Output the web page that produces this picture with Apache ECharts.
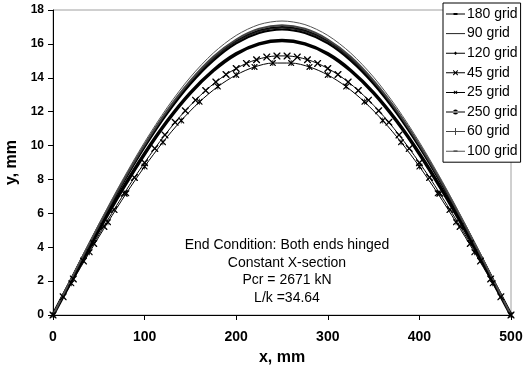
<!DOCTYPE html>
<html>
<head>
    <meta charset="utf-8">
    <title>ECharts</title>
    <script src="https://cdn.jsdelivr.net/npm/echarts@6/dist/echarts.min.js"></script>
</head>
<body style="margin:0">
<div id="main" style="width: 526px;height:371px;"></div>
<script type="text/javascript">
    var myChart = echarts.init(document.getElementById('main'));

    // column length, mm
    var spanLength = 500;

    // deflection y (mm) read at equally spaced nodes along the column
    var grid180 = [0, 2.66, 5.25, 7.72, 9.99, 12.02, 13.75, 15.15, 16.17, 16.79, 17.00,
        16.79, 16.17, 15.15, 13.75, 12.02, 9.99, 7.72, 5.25, 2.66, 0];
    var grid90 = [0, 2.65, 5.24, 7.70, 9.96, 11.99, 13.71, 15.10, 16.12, 16.74, 16.95,
        16.74, 16.12, 15.10, 13.71, 11.99, 9.96, 7.70, 5.24, 2.65, 0];
    var grid120 = [0, 2.64, 5.21, 7.65, 9.90, 11.91, 13.63, 15.01, 16.03, 16.64, 16.85,
        16.64, 16.03, 15.01, 13.63, 11.91, 9.90, 7.65, 5.21, 2.64, 0];
    var grid45 = [0, 1.07, 2.13, 3.18, 4.22, 5.23, 6.22, 7.18, 8.11, 8.99, 9.83, 10.63,
        11.37, 12.06, 12.68, 13.25, 13.75, 14.19, 14.55, 14.85, 15.07, 15.22, 15.29,
        15.29, 15.22, 15.07, 14.85, 14.55, 14.19, 13.75, 13.25, 12.68, 12.06, 11.37,
        10.63, 9.83, 8.99, 8.11, 7.18, 6.22, 5.23, 4.22, 3.18, 2.13, 1.07, 0];
    var grid25 = [0, 1.87, 3.71, 5.48, 7.18, 8.76, 10.20, 11.48, 12.58, 13.48, 14.17,
        14.64, 14.87, 14.87, 14.64, 14.17, 13.48, 12.58, 11.48, 10.20, 8.76, 7.18,
        5.48, 3.71, 1.87, 0];
    var grid250 = [0, 2.53, 5.01, 7.35, 9.52, 11.46, 13.11, 14.43, 15.41, 16.00, 16.20,
        16.00, 15.41, 14.43, 13.11, 11.46, 9.52, 7.35, 5.01, 2.53, 0];
    var grid60 = [0, 2.67, 5.28, 7.76, 10.05, 12.09, 13.83, 15.24, 16.26, 16.89, 17.10,
        16.89, 16.26, 15.24, 13.83, 12.09, 10.05, 7.76, 5.28, 2.67, 0];
    var grid100 = [0, 2.71, 5.36, 7.88, 10.20, 12.27, 14.04, 15.46, 16.50, 17.14, 17.35,
        17.14, 16.50, 15.46, 14.04, 12.27, 10.20, 7.88, 5.36, 2.71, 0];

    var noteLines = ['End Condition: Both ends hinged', 'Constant X-section',
        'Pcr = 2671 kN', 'L/k =34.64'];

    // pair each value with its node position along the span
    function nodes(arr) {
        var step = spanLength / (arr.length - 1);
        return arr.map(function (v, i) { return [i * step, v]; });
    }

    var crossPath = 'path://M0,0L1.4,0L5,3.6L8.6,0L10,0L10,1.4L6.4,5L10,8.6L10,10L8.6,10L5,6.4L1.4,10L0,10L0,8.6L3.6,5L0,1.4Z';
    var starPath = 'path://M0,0L1.4,0L4.4,3L4.4,0L5.6,0L5.6,3L8.6,0L10,0L10,1.4L6.4,5L10,8.6L10,10L8.6,10L5.6,7L5.6,10L4.4,10L4.4,7L1.4,10L0,10L0,8.6L3.6,5L0,1.4Z';

    // legend icons: a short line with the series marker in the middle
    var lineBar = 'M0,3.5H19V4.5H0Z';
    var icons = {
        '180 grid': 'path://' + lineBar + 'M7.5,2.9H11.5V5.1H7.5Z',
        '90 grid': 'path://M0,0H19V1H0Z',
        '120 grid': 'path://' + lineBar + 'M9.5,2.2L11.3,4L9.5,5.8L7.7,4Z',
        '45 grid': 'path://' + lineBar + 'M7,1.5L7.7,1.5L9.5,3.3L11.3,1.5L12,1.5L12,2.2L10.2,4L12,5.8L12,6.5L11.3,6.5L9.5,4.7L7.7,6.5L7,6.5L7,5.8L8.8,4L7,2.2Z',
        '25 grid': 'path://' + lineBar + 'M7.8,2.3L8.5,2.3L9.5,3.3L10.5,2.3L11.2,2.3L11.2,3L10.2,4L11.2,5L11.2,5.7L10.5,5.7L9.5,4.7L8.5,5.7L7.8,5.7L7.8,5L8.8,4L7.8,3Z',
        '250 grid': 'path://' + lineBar + 'M7,4A2.5,2.5,0,1,0,12,4A2.5,2.5,0,1,0,7,4Z',
        '60 grid': 'path://' + lineBar + 'M9,0.5H10V7.5H9Z',
        '100 grid': 'path://' + lineBar + 'M7.5,3.1H11.5V4.9H7.5Z'
    };
    var legendNames = ['180 grid', '90 grid', '120 grid', '45 grid', '25 grid', '250 grid', '60 grid', '100 grid'];

    function line(name, arr, opts) {
        return {
            name: name,
            type: 'line',
            data: nodes(arr),
            smooth: 0.3,
            symbol: opts.symbol || 'none',
            symbolSize: opts.size || 6,
            showSymbol: opts.showSymbol || false,
            lineStyle: {color: opts.color || '#000', width: opts.width || 1},
            itemStyle: {color: opts.color || '#000'},
            z: opts.z || 2
        };
    }

    var option = {
        animation: false,
        textStyle: {fontFamily: 'Liberation Sans'},
        grid: {
            left: 53, right: 15, top: 10, bottom: 56,
            containLabel: false, outerBoundsMode: 'none',
            show: true, borderColor: '#a0a0a0', borderWidth: 1
        },
        xAxis: {
            type: 'value', min: 0, max: 500, interval: 100,
            name: 'x, mm', nameLocation: 'middle', nameGap: 35,
            nameTextStyle: {fontSize: 16, fontWeight: 'bold', color: '#000'},
            axisLine: {lineStyle: {color: '#000'}},
            axisTick: {length: 5, lineStyle: {color: '#000'}},
            axisLabel: {fontSize: 14, fontWeight: 'bold', color: '#000', margin: 15},
            splitLine: {show: false}
        },
        yAxis: {
            type: 'value', min: 0, max: 18, interval: 2,
            name: 'y, mm', nameLocation: 'middle', nameGap: 33,
            nameTextStyle: {fontSize: 16, fontWeight: 'bold', color: '#000'},
            axisLine: {show: true, lineStyle: {color: '#000'}},
            axisTick: {show: true, length: 5, lineStyle: {color: '#000'}},
            axisLabel: {fontSize: 12, fontWeight: 'bold', color: '#000', margin: 9},
            splitLine: {show: false}
        },
        legend: {
            orient: 'vertical',
            left: 443, top: 3,
            backgroundColor: '#fff',
            borderColor: '#000', borderWidth: 1, borderRadius: 0,
            padding: [4, 3, 4, 3],
            itemWidth: 19, itemHeight: 8, itemGap: 5.6,
            textStyle: {fontSize: 14, color: '#000', padding: [0, 0, 0, -3]},
            data: legendNames.map(function (n) { return {name: n, icon: icons[n]}; })
        },
        graphic: noteLines.map(function (t, i) {
            return {
                type: 'text', x: 287, y: 238 + i * 17.7,
                style: {text: t, fill: '#000', font: '14px "Liberation Sans"',
                    textAlign: 'center', textVerticalAlign: 'top'}
            };
        }),
        series: [
            line('180 grid', grid180, {width: 2}),
            line('90 grid', grid90, {width: 1.2, color: '#222'}),
            line('120 grid', grid120, {width: 2}),
            line('45 grid', grid45, {symbol: crossPath, size: 7, showSymbol: true}),
            line('25 grid', grid25, {symbol: starPath, size: 6, showSymbol: true}),
            line('250 grid', grid250, {width: 3.5}),
            line('60 grid', grid60, {width: 2, color: '#444'}),
            line('100 grid', grid100, {width: 1, color: '#555'})
        ]
    };

    myChart.setOption(option);
</script>
</body>
</html>
